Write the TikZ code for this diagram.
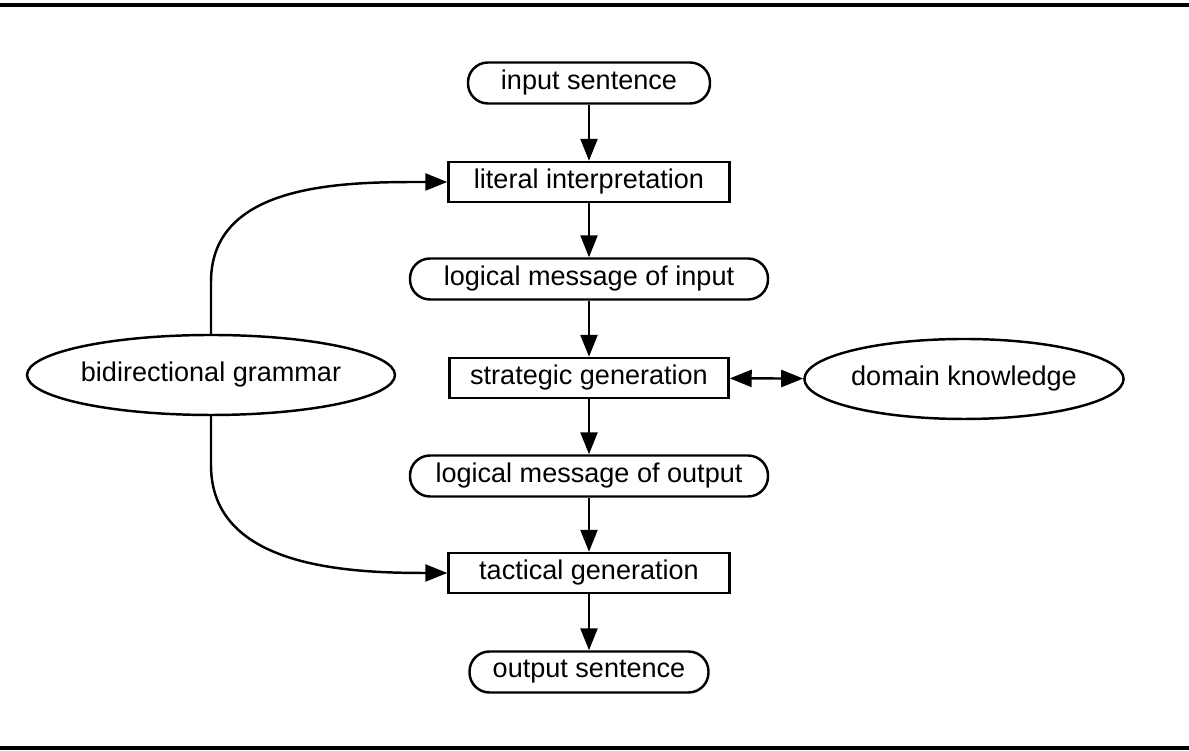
\documentclass[tikz,border=0pt]{standalone}
\usepackage{fontspec}
\setmainfont{Liberation Sans}
\usetikzlibrary{shapes.geometric,arrows.meta}

\begin{document}
\begin{tikzpicture}[every node/.style={draw, line width=1.4pt, inner sep=0pt, font=\fontsize{15.4}{18}\selectfont},
                pill/.style={rectangle, rounded corners=0.4cm, minimum height=0.82cm},
                box/.style={rectangle, minimum height=0.8cm},
                oval/.style={ellipse, minimum height=1.6cm},
                >={Triangle[length=0.44cm,width=0.34cm]}, line width=1.4pt]
                \useasboundingbox (0,0) rectangle (23.78,15.02);
                \draw[line width=2pt] (0,14.92) -- (23.78,14.92);
                \draw[line width=2pt] (0,0.06) -- (23.78,0.06);

                \node[pill, minimum width=4.84cm] (inp) at (11.78,13.36) {input sentence};
                \node[box, minimum width=5.62cm] (lit) at (11.78,11.38) {literal interpretation};
                \node[pill, minimum width=7.16cm] (lmi) at (11.78,9.44) {logical message of input};
                \node[box, minimum width=5.58cm] (str) at (11.78,7.46) {strategic generation};
                \node[pill, minimum width=7.16cm] (lmo) at (11.78,5.50) {logical message of output};
                \node[box, minimum width=5.62cm] (tac) at (11.78,3.56) {tactical generation};
                \node[pill, minimum width=4.78cm] (out) at (11.78,1.58) {output sentence};
                \node[oval, minimum width=6.34cm] (gram) at (4.22,7.52) {bidirectional grammar};
                \node[oval, minimum width=6.28cm] (dom) at (19.28,7.44) {domain knowledge};

                \draw[->] (inp) -- (lit);
                \draw[->] (lit) -- (lmi);
                \draw[->] (lmi) -- (str);
                \draw[->] (str) -- (lmo);
                \draw[->] (lmo) -- (tac);
                \draw[->] (tac) -- (out);
                \draw[<->] (str) -- (dom);
                \draw[->] (gram.north) -- ++(0,1.04) to[out=90,in=180] (lit.west);
                \draw[->] (gram.south) -- ++(0,-0.98) to[out=-90,in=180] (tac.west);
            \end{tikzpicture}
\end{document}
